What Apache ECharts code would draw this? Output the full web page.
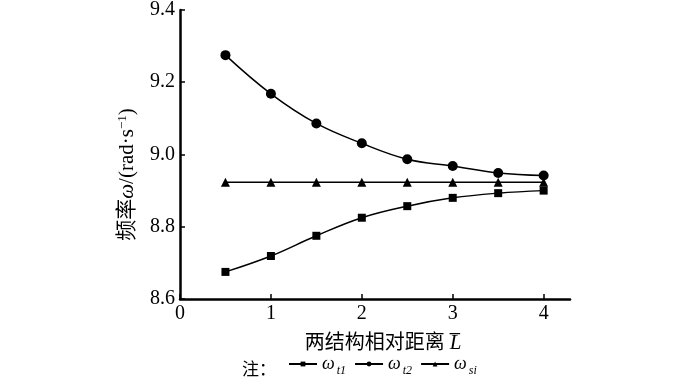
<!DOCTYPE html>
<html><head><meta charset="utf-8">
<script src="https://cdn.jsdelivr.net/npm/echarts@6/dist/echarts.min.js"></script>
<style>html,body{margin:0;padding:0;background:#fff}#c{width:700px;height:388px}</style>
</head><body><div id="c"></div>
<script>
const xValues = [0.5, 1, 1.5, 2, 2.5, 3, 3.5, 4];
const omegaT1 = [8.675, 8.719, 8.775, 8.825, 8.857, 8.880, 8.893, 8.900];
const omegaT2 = [9.275, 9.168, 9.086, 9.031, 8.987, 8.968, 8.949, 8.942];
const omegaSi = [8.923, 8.923, 8.923, 8.923, 8.923, 8.923, 8.923, 8.923];
const xTicks = [0, 1, 2, 3, 4];
const seriesNames = ['t1', 't2', 'si'];

const serif = '"Liberation Serif", "Noto Sans CJK SC", serif';
const pair = arr => xValues.map((x, i) => [x, arr[i]]);
const chart = echarts.init(document.getElementById('c'));
const mk = (name, data, symbol, size, smooth) => ({
  name, type: 'line', data: pair(data), symbol, symbolSize: size, smooth,
  lineStyle: {color: '#000', width: 1.5}, itemStyle: {color: '#000'}, z: 3
});
chart.setOption({
  animation: false,
  grid: {left: 180, right: 130, top: 7, bottom: 89},
  textStyle: {fontFamily: serif},
  xAxis: {
    type: 'value', min: 0, max: 4.29,
    name: '两结构相对距离 {l|L\u0305}',
    nameLocation: 'middle', nameGap: 34,
    nameTextStyle: {fontSize: 20, color: '#000', fontFamily: serif, padding: [0,0,0,16],
      rich: {l: {fontSize: 21, fontStyle: 'italic', fontFamily: serif, color: '#000'}}},
    axisLine: {lineStyle: {color: '#000', width: 2.5}},
    axisTick: {inside: true, length: 5, lineStyle: {color: '#000', width: 1.5}, customValues: xTicks},
    axisLabel: {color: '#000', fontSize: 20, margin: 5, fontFamily: serif, customValues: xTicks},
    splitLine: {show: false}
  },
  yAxis: {
    type: 'value', min: 8.6, max: 9.4, interval: 0.2,
    name: '频率{w|ω}/(rad·s{sup|−1})',
    nameLocation: 'middle', nameGap: 42, nameRotate: 90,
    nameTextStyle: {fontSize: 21, color: '#000', fontFamily: serif, padding: [0,40,0,0],
      rich: {
        w: {fontSize: 21, fontStyle: 'italic', fontFamily: serif, color: '#000'},
        sup: {fontSize: 13, fontFamily: serif, color: '#000', verticalAlign: 'top', padding: [0,0,9,0]}
      }},
    axisLine: {show: true, lineStyle: {color: '#000', width: 2.5}},
    axisTick: {show: true, inside: true, length: 5, lineStyle: {color: '#000', width: 1.5}},
    axisLabel: {color: '#000', fontSize: 20, margin: 5, fontFamily: serif, formatter: v => v.toFixed(1)},
    splitLine: {show: false}
  },
  legend: {
    bottom: 6, left: 283, itemGap: 8, itemWidth: 28, itemHeight: 6,
    data: seriesNames.map(n => ({name: n, itemStyle: {color: '#000'}})),
    formatter: n => '{w|ω}{s|' + n + '}',
    textStyle: {fontFamily: serif, color: '#000',
      rich: {
        w: {fontSize: 18, fontStyle: 'italic', fontFamily: serif, color: '#000'},
        s: {fontSize: 12, fontStyle: 'italic', fontFamily: serif, color: '#000', padding: [14,0,0,2]}
      }}
  },
  graphic: [{type: 'text', left: 242, bottom: 11,
    style: {text: '注：', fontSize: 17, fontFamily: '"Noto Sans CJK SC", serif', fill: '#000'}}],
  series: [
    mk(seriesNames[0], omegaT1, 'rect', 8, 0.4),
    mk(seriesNames[1], omegaT2, 'circle', 10, 0.4),
    mk(seriesNames[2], omegaSi, 'triangle', 9, false)
  ]
});
</script></body></html>
